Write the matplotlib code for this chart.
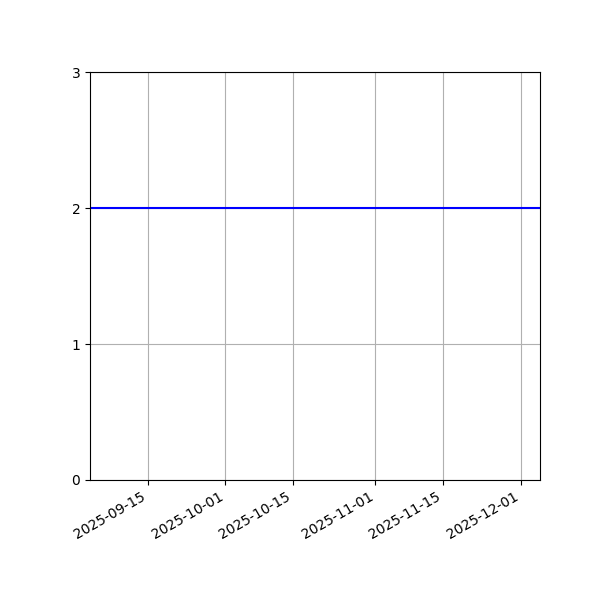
import matplotlib
matplotlib.use("Agg")
import matplotlib.pyplot as plt
import matplotlib.dates as mdates
import pandas as pd

# data
dates = ["2025-09-03", "2025-12-05"]
values = [2, 2]
y_ticks = [0, 1, 2, 3]

x = pd.to_datetime(dates)

fig, ax = plt.subplots(figsize=(6, 6), dpi=100)
ax.plot(x, values, color="blue", linewidth=1.5)
ax.set_xlim(x.min(), x.max())
ax.set_ylim(0, 3)
ax.set_yticks(y_ticks)
ax.xaxis.set_major_locator(mdates.DayLocator(bymonthday=[1, 15]))
ax.xaxis.set_major_formatter(mdates.DateFormatter("%Y-%m-%d"))
ax.grid(True)
fig.autofmt_xdate()
fig.subplots_adjust(left=0.15, right=0.9, top=0.88, bottom=0.2)

plt.savefig("out.png")
plt.close()
